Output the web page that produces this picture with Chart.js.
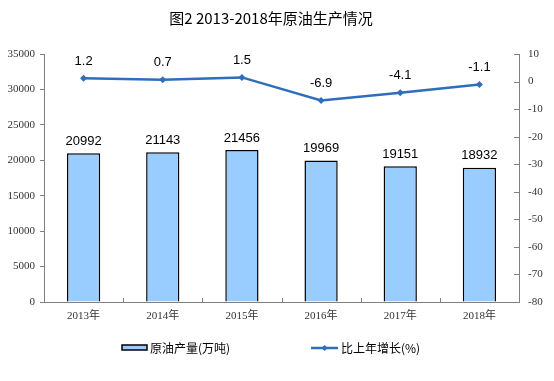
<!DOCTYPE html>
<html><head><meta charset="utf-8">
<script src="https://cdn.jsdelivr.net/npm/chart.js@4/dist/chart.umd.min.js"></script>
<style>html,body{margin:0;padding:0;background:#fff;}canvas{display:block;}</style>
</head><body>
<canvas id="c" width="554" height="381"></canvas>
<script>
const titleText = "图2 2013-2018年原油生产情况";
const categories = ["2013年","2014年","2015年","2016年","2017年","2018年"];
const production = [20992, 21143, 21456, 19969, 19151, 18932];
const growth = [1.2, 0.7, 1.5, -6.9, -4.1, -1.1];
const leftTicks = [0, 5000, 10000, 15000, 20000, 25000, 30000, 35000];
const rightTicks = [-80, -70, -60, -50, -40, -30, -20, -10, 0, 10];
const seriesNames = ["原油产量(万吨)", "比上年增长(%)"];

const BAR_FILL = "#99CCFF", LINE_COLOR = "#2F6EBA", AXIS = "#808080";
const SERIF = "'Liberation Serif','Noto Sans CJK SC',serif";
const SANS = "'Liberation Sans','Noto Sans CJK SC',sans-serif";
const CJK = "'Noto Sans CJK SC',sans-serif";

const extras = {
  id: "extras",
  afterDatasetsDraw(chart) {
    const ctx = chart.ctx;
    const area = chart.chartArea;
    ctx.save();
    ctx.fillStyle = "#000";
    ctx.font = "13px " + SANS;
    ctx.textAlign = "center";
    ctx.textBaseline = "middle";
    chart.getDatasetMeta(0).data.forEach((el, i) => {
      ctx.fillText(String(production[i]), el.x, el.y - 12);
    });
    chart.getDatasetMeta(1).data.forEach((el, i) => {
      ctx.fillText(growth[i].toFixed(1), el.x, el.y - 17);
    });
    ctx.strokeStyle = AXIS;
    ctx.lineWidth = 1;
    const n = categories.length;
    const w = (area.right - area.left) / n;
    ctx.beginPath();
    for (let i = 1; i < n; i++) {
      const x = Math.round(area.left + i * w) + 0.5;
      ctx.moveTo(x, area.bottom - 4);
      ctx.lineTo(x, area.bottom);
    }
    const y1 = chart.scales.y1;
    rightTicks.forEach(v => {
      const y = Math.round(y1.getPixelForValue(v)) + 0.5;
      ctx.moveTo(area.right - 5, y);
      ctx.lineTo(area.right, y);
    });
    ctx.stroke();
    ctx.restore();
  },
  afterDraw(chart) {
    const ctx = chart.ctx;
    ctx.save();
    ctx.fillStyle = "#000";
    ctx.font = "15px " + CJK;
    ctx.textAlign = "center";
    ctx.textBaseline = "middle";
    ctx.fillText(titleText, 271, 18);
    ctx.fillStyle = BAR_FILL;
    ctx.fillRect(122, 345, 25, 5);
    ctx.strokeStyle = "#000";
    ctx.lineWidth = 1.5;
    ctx.strokeRect(122, 345, 25, 5);
    ctx.fillStyle = "#000";
    ctx.font = "12px " + CJK;
    ctx.textAlign = "left";
    ctx.fillText(seriesNames[0], 150, 348);
    ctx.strokeStyle = LINE_COLOR;
    ctx.lineWidth = 2.5;
    ctx.beginPath();
    ctx.moveTo(311, 348); ctx.lineTo(338, 348);
    ctx.stroke();
    ctx.fillStyle = LINE_COLOR;
    ctx.beginPath();
    ctx.moveTo(324.5, 345); ctx.lineTo(327.5, 348); ctx.lineTo(324.5, 351); ctx.lineTo(321.5, 348);
    ctx.closePath(); ctx.fill();
    ctx.fillStyle = "#000";
    ctx.fillText(seriesNames[1], 341, 348);
    ctx.restore();
  }
};

new Chart(document.getElementById("c"), {
  data: {
    labels: categories,
    datasets: [
      {
        type: "bar", label: seriesNames[0], data: production, yAxisID: "y",
        backgroundColor: BAR_FILL, borderColor: "#000", borderWidth: 1.5,
        barPercentage: 0.42, categoryPercentage: 1, order: 2
      },
      {
        type: "line", label: seriesNames[1], data: growth, yAxisID: "y1",
        borderColor: LINE_COLOR, borderWidth: 2.5, backgroundColor: LINE_COLOR,
        pointStyle: "rectRot", pointRadius: 3.5, pointHoverRadius: 3.5,
        pointBackgroundColor: LINE_COLOR, pointBorderColor: LINE_COLOR, pointBorderWidth: 0,
        tension: 0, order: 1
      }
    ]
  },
  options: {
    responsive: false, animation: false,
    layout: { padding: { top: 54, bottom: 59, left: 0, right: 0 } },
    plugins: { legend: { display: false }, title: { display: false }, tooltip: { enabled: false } },
    scales: {
      x: {
        grid: { display: false, drawTicks: false },
        border: { display: true, color: AXIS, width: 1 },
        ticks: { font: { family: SERIF, size: 11 }, color: "#333", padding: 8, maxRotation: 0 },
        afterFit(s) { s.height = 20; }
      },
      y: {
        position: "left", min: 0, max: 35000,
        afterBuildTicks(s) { s.ticks = leftTicks.map(v => ({ value: v })); },
        grid: { drawOnChartArea: false, drawTicks: true, tickLength: 4, color: AXIS },
        border: { display: true, color: AXIS, width: 1 },
        ticks: { font: { family: SERIF, size: 11 }, color: "#333", padding: 5, callback: v => String(v) },
        afterFit(s) { s.width = 44; }
      },
      y1: {
        position: "right", min: -80, max: 10,
        afterBuildTicks(s) { s.ticks = rightTicks.map(v => ({ value: v })); },
        grid: { drawOnChartArea: false, drawTicks: false },
        border: { display: true, color: AXIS, width: 1 },
        ticks: { font: { family: SERIF, size: 11 }, color: "#333", padding: 9, callback: v => String(v) },
        afterFit(s) { s.width = 35; }
      }
    }
  },
  plugins: [extras]
});
</script>
</body></html>
